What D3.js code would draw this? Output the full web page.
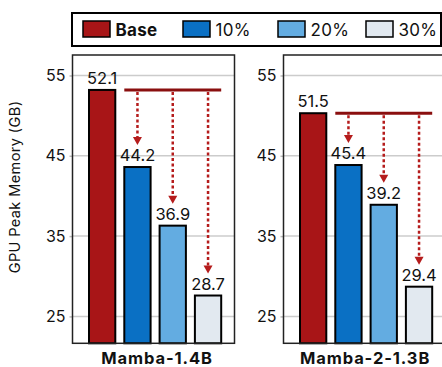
<!DOCTYPE html>
<html>
<head>
<meta charset="utf-8">
<script src="https://cdn.jsdelivr.net/npm/d3@7"></script>
<style>
  html, body { margin: 0; padding: 0; background: #fff; }
  svg { display: block; font-family: Inter, "Noto Sans", sans-serif; }
</style>
</head>
<body>
<svg id="chart" width="442" height="367"></svg>
<script>
// ---- data ----
const categories = ["Base", "10%", "20%", "30%"];
const models = ["Mamba-1.4B", "Mamba-2-1.3B"];
// bar heights as drawn (GB)
const mamba14Bars = [53.2, 43.6, 36.3, 27.6];
const mamba2Bars = [50.3, 43.85, 38.9, 28.7];
// printed value labels
const mamba14Labels = ["52.1", "44.2", "36.9", "28.7"];
const mamba2Labels = ["51.5", "45.4", "39.2", "29.4"];
const yTicks = [25, 35, 45, 55];
const colors = ["#A81517", "#0A70C4", "#63ACE1", "#E2E9F0"];

const panels = [
  { name: models[0], bars: mamba14Bars, labels: mamba14Labels, x0: 72.5 },
  { name: models[1], bars: mamba2Bars, labels: mamba2Labels, x0: 283.5 }
];

const svg = d3.select("#chart");
const panelW = 162, plotTop = 55, plotBottom = 343.3;

const y = d3.scaleLinear().domain([21.65, 57.55]).range([plotBottom, plotTop]);

panels.forEach((p, pi) => {
  const g = svg.append("g").attr("transform", `translate(${p.x0},0)`);
  const x = d3.scaleBand().domain(categories).range([12, 153.2])
    .paddingInner(0.255).paddingOuter(0.1275);

  // gridlines
  g.selectAll(".grid").data(yTicks).enter().append("line")
    .attr("x1", 0).attr("x2", panelW)
    .attr("y1", d => y(d)).attr("y2", d => y(d))
    .attr("stroke", "#cccccc").attr("stroke-width", 1.5);

  // y axis labels
  const yAxis = d3.axisLeft(y).tickValues(yTicks).tickSize(3).tickPadding(4).tickFormat(d3.format("d"));
  const ya = g.append("g").call(yAxis);
  ya.select(".domain").remove();
  ya.selectAll("line").attr("stroke", "#bbbbbb").attr("stroke-width", 1.5);
  ya.selectAll("text").attr("font-size", 16).attr("fill", "#111").attr("font-family", "Inter, sans-serif");

  // bars
  g.selectAll(".bar").data(p.bars).enter().append("rect")
    .attr("x", (d, i) => x(categories[i]))
    .attr("width", x.bandwidth())
    .attr("y", d => y(d))
    .attr("height", d => plotBottom - y(d))
    .attr("fill", (d, i) => colors[i])
    .attr("stroke", "#000").attr("stroke-width", 2);

  // value labels
  g.selectAll(".val").data(p.bars).enter().append("text")
    .attr("x", (d, i) => x(categories[i]) + x.bandwidth() / 2)
    .attr("y", d => y(d) - 6)
    .attr("text-anchor", "middle")
    .attr("font-size", 16.5).attr("fill", "#111")
    .text((d, i) => p.labels[i]);

  // reference line at base
  const baseY = y(p.bars[0]);
  g.append("line")
    .attr("x1", x(categories[1])).attr("x2", x(categories[3]) + x.bandwidth())
    .attr("y1", baseY).attr("y2", baseY)
    .attr("stroke", "#8A0F0F").attr("stroke-width", 3);

  // dashed arrows
  p.bars.slice(1).forEach((v, k) => {
    const cx = x(categories[k + 1]) + x.bandwidth() / 2;
    const tipY = y(v) - 22;
    g.append("line")
      .attr("x1", cx).attr("x2", cx)
      .attr("y1", baseY + 2).attr("y2", tipY - 7)
      .attr("stroke", "#B51C1C").attr("stroke-width", 2.5)
      .attr("stroke-dasharray", "3,2.5");
    g.append("path")
      .attr("d", `M${cx - 4.5},${tipY - 8} L${cx + 4.5},${tipY - 8} L${cx},${tipY} Z`)
      .attr("fill", "#B51C1C");
  });

  // frame
  g.append("rect")
    .attr("x", 0).attr("y", plotTop).attr("width", panelW).attr("height", plotBottom - plotTop)
    .attr("fill", "none").attr("stroke", "#222").attr("stroke-width", 1.5);

  // x label
  g.append("text")
    .attr("x", (x(categories[0]) + x(categories[3]) + x.bandwidth()) / 2 + (pi === 0 ? 2 : -1))
    .attr("y", 364)
    .attr("text-anchor", "middle")
    .attr("font-size", 16.5).attr("font-weight", "bold").attr("fill", "#111")
    .attr("letter-spacing", 0.9)
    .text(p.name);
});

// y axis title
svg.append("text")
  .attr("transform", "translate(19.5,187) rotate(-90)")
  .attr("text-anchor", "middle")
  .attr("font-size", 14.5).attr("fill", "#111")
  .attr("letter-spacing", 0.4)
  .text("GPU Peak Memory (GB)");

// legend
const lg = svg.append("g");
lg.append("rect").attr("x", 72).attr("y", 13).attr("width", 369).attr("height", 33)
  .attr("fill", "#fff").attr("stroke", "#000").attr("stroke-width", 2);
const legendX = [83, 183, 278, 366];
categories.forEach((c, i) => {
  lg.append("rect").attr("x", legendX[i]).attr("y", 21).attr("width", 27).attr("height", 16)
    .attr("fill", colors[i]).attr("stroke", "#000").attr("stroke-width", 1.5);
  lg.append("text").attr("x", legendX[i] + 32.5).attr("y", 35.5)
    .attr("font-size", 17).attr("font-weight", i === 0 ? "bold" : "normal").attr("fill", "#111")
    .attr("letter-spacing", 0.3)
    .text(c);
});
</script>
</body>
</html>
